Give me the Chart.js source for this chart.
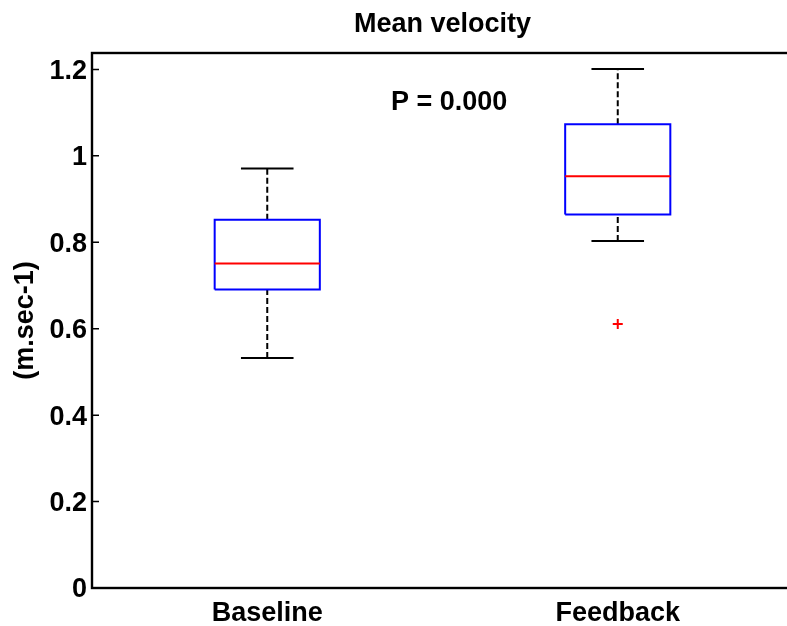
<!DOCTYPE html>
<html><head><meta charset="utf-8">
<script src="https://cdn.jsdelivr.net/npm/chart.js@4.4.1/dist/chart.umd.min.js"></script>
<style>html,body{margin:0;padding:0;background:#fff;overflow:hidden;width:787px;height:626px}canvas{display:block}</style>
</head><body>
<canvas id="c" width="800" height="626" style="width:800px;height:626px"></canvas>
<script>
const categories = ['Baseline', 'Feedback'];
const whiskerLow = [0.532, 0.803];
const q1 = [0.691, 0.864];
const median = [0.751, 0.953];
const q3 = [0.852, 1.073];
const whiskerHigh = [0.971, 1.201];
const outliers = [[], [0.611]];
const yTicks = [0, 0.2, 0.4, 0.6, 0.8, 1, 1.2];
const yTickLabels = ['0', '0.2', '0.4', '0.6', '0.8', '1', '1.2'];
const pText = 'P = 0.000';
const pPos = { x: 1.519, y: 1.124 };

const boxHalf = 0.15, capHalf = 0.075;
const FONT = "'Liberation Sans', Arial, Helvetica, sans-serif";
const LW = 2;

const datasets = [];
categories.forEach((c, i) => {
  const x = i + 1;
  datasets.push({ label: c + ' median', data: [{x: x - boxHalf, y: median[i]}, {x: x + boxHalf, y: median[i]}],
    borderColor: '#ff0000', borderWidth: LW, order: 0 });
  datasets.push({ label: c + ' box', data: [
      {x: x - boxHalf, y: q1[i]}, {x: x + boxHalf, y: q1[i]}, {x: x + boxHalf, y: q3[i]},
      {x: x - boxHalf, y: q3[i]}, {x: x - boxHalf, y: q1[i]}],
    borderColor: '#0000ff', borderWidth: LW, order: 1 });
  datasets.push({ label: c + ' upper whisker', data: [{x: x, y: q3[i]}, {x: x, y: whiskerHigh[i]}],
    borderColor: '#000', borderWidth: LW, borderDash: [6, 3], order: 2 });
  datasets.push({ label: c + ' lower whisker', data: [{x: x, y: whiskerLow[i]}, {x: x, y: q1[i]}],
    borderColor: '#000', borderWidth: LW, borderDash: [6, 3], order: 2 });
  datasets.push({ label: c + ' upper cap', data: [{x: x - capHalf, y: whiskerHigh[i]}, {x: x + capHalf, y: whiskerHigh[i]}],
    borderColor: '#000', borderWidth: LW, order: 2 });
  datasets.push({ label: c + ' lower cap', data: [{x: x - capHalf, y: whiskerLow[i]}, {x: x + capHalf, y: whiskerLow[i]}],
    borderColor: '#000', borderWidth: LW, order: 2 });
  if (outliers[i].length) {
    datasets.push({ label: c + ' outliers', data: outliers[i].map(v => ({x: x, y: v})),
      showLine: false, pointStyle: 'cross', pointRadius: 5, borderColor: '#ff0000', borderWidth: 2, order: 0 });
  }
});
datasets.forEach(d => { if (d.showLine === undefined) { d.showLine = true; d.pointRadius = 0; d.fill = false; } });

const framePlugin = {
  id: 'frame',
  afterDraw(chart) {
    const { ctx, chartArea: a, scales: { x, y } } = chart;
    ctx.save();
    ctx.strokeStyle = '#000';
    ctx.lineWidth = 2.4;
    ctx.strokeRect(a.left, a.top, a.right - a.left, a.bottom - a.top);
    ctx.beginPath();
    yTicks.forEach(v => {
      const py = y.getPixelForValue(v);
      ctx.moveTo(a.left, py); ctx.lineTo(a.left + 7, py);
    });
    ctx.lineWidth = 1.5;
    ctx.stroke();
    ctx.fillStyle = '#000';
    ctx.font = 'bold 27px ' + FONT;
    ctx.textAlign = 'center';
    ctx.textBaseline = 'middle';
    ctx.fillText(pText, x.getPixelForValue(pPos.x), y.getPixelForValue(pPos.y));
    ctx.restore();
  }
};

new Chart(document.getElementById('c'), {
  type: 'scatter',
  data: { datasets },
  plugins: [framePlugin],
  options: {
    responsive: false,
    devicePixelRatio: 1,
    animation: false,
    layout: { padding: { left: 0, right: 7, top: 0, bottom: 0 } },
    plugins: {
      legend: { display: false },
      tooltip: { enabled: false },
      title: {
        display: true, text: 'Mean velocity', color: '#000', fullSize: false,
        font: { family: FONT, size: 27, weight: 'bold' },
        padding: { top: 8, bottom: 12.6 }
      }
    },
    scales: {
      x: {
        type: 'linear', min: 0.5, max: 2.5,
        afterBuildTicks: s => { s.ticks = categories.map((c, i) => ({ value: i + 1 })); },
        afterFit: s => { s.height = 38; },
        grid: { display: false, drawTicks: false },
        border: { display: false },
        ticks: { color: '#000', padding: 9, font: { family: FONT, size: 27, weight: 'bold' },
          callback: (v, i) => categories[i] }
      },
      y: {
        type: 'linear', min: 0, max: 1.238,
        afterBuildTicks: s => { s.ticks = yTicks.map(v => ({ value: v })); },
        afterFit: s => { s.width = 92; },
        grid: { display: false, drawTicks: false },
        border: { display: false },
        ticks: { color: '#000', padding: 5, labelOffset: 2, font: { family: FONT, size: 27, weight: 'bold' },
          callback: (v, i) => yTickLabels[i] },
        title: { display: true, text: '(m.sec-1)', color: '#000',
          font: { family: FONT, size: 27, weight: 'bold' }, padding: { top: 9.6, bottom: 0 } }
      }
    }
  }
});
</script>
</body></html>
